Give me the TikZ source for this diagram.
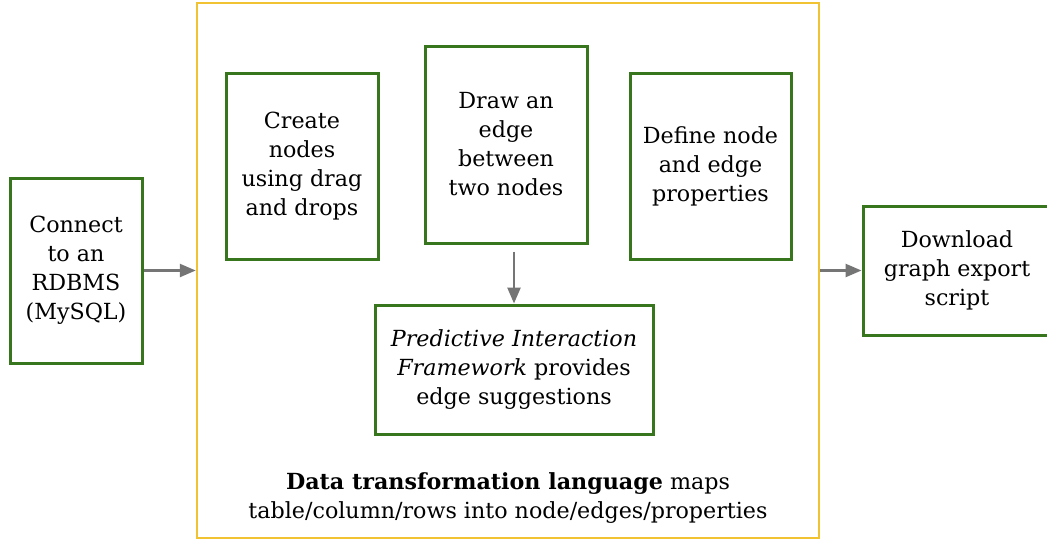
\documentclass[tikz,border=0pt]{standalone}
\usepackage{fontspec}
\setmainfont{DejaVu Serif}
\usetikzlibrary{arrows.meta,calc}
\definecolor{boxgreen}{HTML}{38761D}
\definecolor{frameyellow}{HTML}{F1C232}
\definecolor{arrowgray}{HTML}{757575}
\begin{document}
\begin{tikzpicture}[x=1pt,y=-1pt,
  box/.style={draw=boxgreen, line width=3pt, align=center, inner sep=0pt,
    font=\fontsize{22.2}{29}\selectfont},
  frame/.style={draw=frameyellow, line width=2.5pt, inner sep=0pt},
  arr/.style={draw=arrowgray, line width=2.5pt, -{Triangle[length=16pt,width=13pt]}},
  caption/.style={align=center, inner sep=0pt, font=\fontsize{22.2}{29}\selectfont}]
\useasboundingbox[fill=white] (0,0) rectangle (1047,541);
\node[frame, minimum width=622, minimum height=535] (frame) at (508,270.5) {};
\node[box, minimum width=132, minimum height=185] (connect) at (76,270.5)
  {Connect\\to an\\RDBMS\\(MySQL)};
\node[box, minimum width=152, minimum height=186] (create) at (302,166)
  {Create\\nodes\\using drag\\and drops};
\node[box, minimum width=162, minimum height=197] (edge) at (506,144.5)
  {Draw an\\edge\\between\\two nodes};
\node[box, minimum width=161, minimum height=186] (define) at (710.5,166)
  {Define node\\and edge\\properties};
\node[box, minimum width=278, minimum height=129] (pred) at (514,369.5)
  {\textit{Predictive Interaction}\\\textit{Framework} provides\\edge suggestions};
\node[box, minimum width=188, minimum height=129] (download) at (957,270.5)
  {Download\\graph export\\script};
\node[caption] (dtl) at (508,498)
  {\textbf{Data transformation language} maps\\table/column/rows into node/edges/properties};
\draw[arr] (connect.east) -- (frame.west |- connect.east);
\draw[arr] (frame.east |- download.west) -- (download.west);
\draw[arr] ([yshift=-7pt]pred.north |- edge.south) -- (pred.north);
\end{tikzpicture}
\end{document}
